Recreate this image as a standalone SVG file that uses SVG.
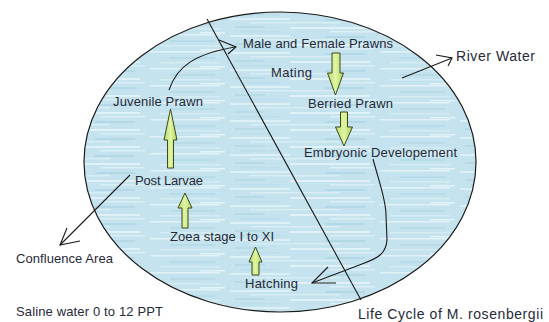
<svg xmlns="http://www.w3.org/2000/svg" width="549" height="322" viewBox="0 0 549 322">
<style>
.t{font-family:"Liberation Sans",Arial,sans-serif;font-size:13px;fill:#262a38}
.big{font-size:14px}
.ln{fill:none;stroke:#1a1a1a;stroke-width:1.1}
.ga{fill:url(#gg);stroke:#3c4a1e;stroke-width:1}
</style>
<defs>
<linearGradient id="gg" x1="0" y1="0" x2="1" y2="0">
<stop offset="0" stop-color="#b9dd6c"/>
<stop offset="0.5" stop-color="#e1f5a4"/>
<stop offset="1" stop-color="#b0d460"/>
</linearGradient>
<pattern id="streak" width="230" height="17" patternUnits="userSpaceOnUse">
<rect x="0" y="1" width="60" height="2" fill="#dcf0f6"/>
<rect x="95" y="2" width="40" height="2" fill="#b3d9e7"/>
<rect x="150" y="0" width="70" height="1.5" fill="#e2f2f7"/>
<rect x="20" y="5" width="90" height="1.5" fill="#d8edf4"/>
<rect x="170" y="6" width="45" height="2" fill="#b8dbe8"/>
<rect x="5" y="9" width="30" height="2" fill="#b7dae7"/>
<rect x="60" y="10" width="80" height="2" fill="#e0f1f7"/>
<rect x="160" y="11" width="60" height="1.5" fill="#d6ecf4"/>
<rect x="100" y="14" width="45" height="1.5" fill="#d9eef5"/>
<rect x="10" y="14" width="40" height="1.5" fill="#bcdde9"/>
<rect x="200" y="15" width="25" height="1.5" fill="#e4f3f8"/>
</pattern>
</defs>
<rect width="549" height="322" fill="#ffffff"/>
<g id="water">
<ellipse cx="280" cy="162" rx="196" ry="150" fill="#c5e3ee"/>
<ellipse cx="280" cy="162" rx="196" ry="150" fill="url(#streak)" stroke="#1a1a1a" stroke-width="1.2"/>
</g>
<g id="divider">
<line x1="207" y1="19" x2="361" y2="300" class="ln"/>
</g>
<g id="connectors">
<path class="ln" d="M169,90 C177,66 195,54 235,47"/>
<path class="ln" d="M219,40 L236,47 L228,54"/>
<path class="ln" d="M373,159 C380,185 386,200 386,215 L387,240 C386,254 378,258 362,264 L312,283"/>
<path class="ln" d="M328,267 L312,283 L336,283"/>
<path class="ln" d="M402,78 L452,58"/>
<path class="ln" d="M436,55 L452,58 L448,66"/>
<path class="ln" d="M130,175 L60,245" stroke="#444"/>
<path class="ln" d="M67,228 L60,245 L80,241" stroke="#444"/>
</g>
<g id="arrows">
<polygon class="ga" points="332,53 340,53 340,73 343.5,73 335.5,95 327.5,73 332,73"/>
<polygon class="ga" points="340.5,112 347.5,112 347.5,127 352.5,127 344,146 335.5,127 340.5,127"/>
<polygon class="ga" points="167.5,168 173.5,168 173.5,140 177,140 170.5,109 164,140 167.5,140"/>
<polygon class="ga" points="182,228 188,228 188,208 192,208 185,193 178,208 182,208"/>
<polygon class="ga" points="252,275 259,275 259,262 262,262 255.5,247 249,262 252,262"/>
</g>
<g id="n-male"><text class="t" x="243" y="48" textLength="150">Male and Female Prawns</text></g>
<g id="n-mating"><text class="t" x="271" y="77" textLength="41">Mating</text></g>
<g id="n-river"><text class="t big" x="456" y="61" textLength="79">River Water</text></g>
<g id="n-juvenile"><text class="t" x="113" y="106" textLength="90">Juvenile Prawn</text></g>
<g id="n-berried"><text class="t" x="308" y="108" textLength="85">Berried Prawn</text></g>
<g id="n-embryonic"><text class="t" x="304" y="157" textLength="153">Embryonic Developement</text></g>
<g id="n-postlarvae"><text class="t" x="135" y="185" textLength="68">Post Larvae</text></g>
<g id="n-zoea"><text class="t" x="170" y="241" textLength="104">Zoea stage I to XI</text></g>
<g id="n-confluence"><text class="t" x="16" y="263" textLength="97">Confluence Area</text></g>
<g id="n-hatching"><text class="t" x="245" y="288" textLength="53">Hatching</text></g>
<g id="n-saline"><text class="t" x="16" y="316" textLength="147">Saline water 0 to 12 PPT</text></g>
<g id="n-title"><text class="t big" x="358" y="319" textLength="185">Life Cycle of M. rosenbergii</text></g>
</svg>
